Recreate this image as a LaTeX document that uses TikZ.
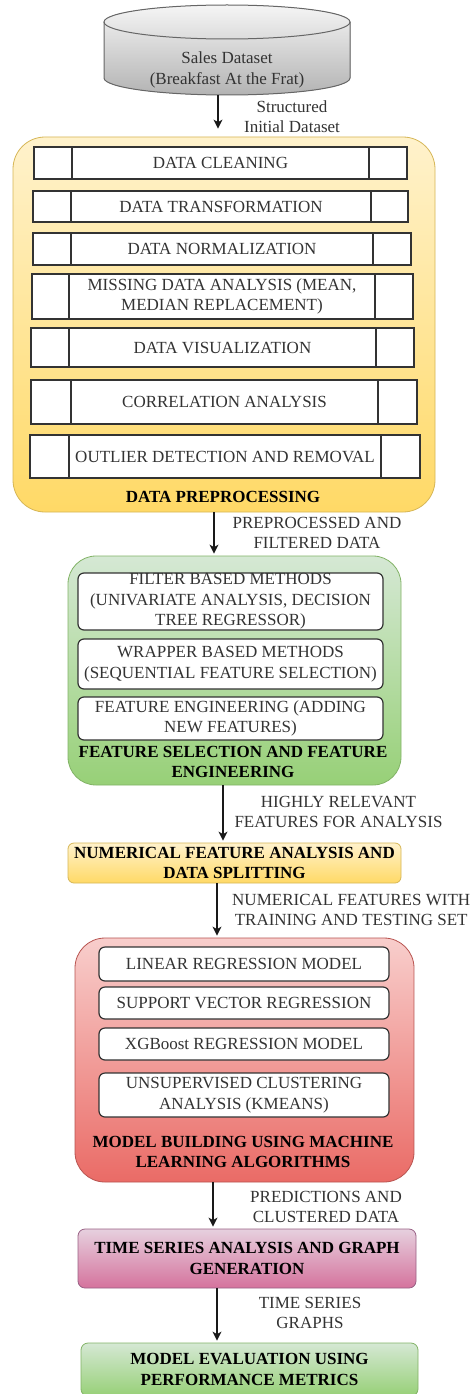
\documentclass[tikz,border=0pt]{standalone}
\usepackage{fontspec}
\setmainfont{Liberation Serif}
\usetikzlibrary{arrows.meta}
\definecolor{yTop}{HTML}{FFF2CC}\definecolor{yBot}{HTML}{FFD966}\definecolor{yStr}{HTML}{D6B656}
\definecolor{gTop}{HTML}{D5E8D4}\definecolor{gBot}{HTML}{97D077}\definecolor{gStr}{HTML}{82B366}
\definecolor{rTop}{HTML}{F8CECC}\definecolor{rBot}{HTML}{EA6B66}\definecolor{rStr}{HTML}{B85450}
\definecolor{pTop}{HTML}{E6D0DE}\definecolor{pBot}{HTML}{D5739D}\definecolor{pStr}{HTML}{996185}
\definecolor{cTop}{HTML}{F5F5F5}\definecolor{cBot}{HTML}{B3B3B3}\definecolor{cStr}{HTML}{666666}
\tikzset{
  txt/.style={font=\fontsize{17}{20.5}\selectfont, text=black!80, align=center},
  ttl/.style={font=\fontsize{17}{20.5}\selectfont\bfseries, text=black, align=center},
  cell/.style={draw=black!80, line width=1.2pt, fill=white, inner sep=0pt, txt},
  ibox/.style={draw=black!80, line width=1.2pt, fill=white, rounded corners=6pt, inner sep=0pt, txt},
  ycont/.style={draw=yStr, line width=0.8pt, top color=yTop, bottom color=yBot, inner sep=0pt, ttl},
  gcont/.style={draw=gStr, line width=0.8pt, top color=gTop, bottom color=gBot, inner sep=0pt, ttl},
  rcont/.style={draw=rStr, line width=0.8pt, top color=rTop, bottom color=rBot, inner sep=0pt, ttl},
  pcont/.style={draw=pStr, line width=0.8pt, top color=pTop, bottom color=pBot, inner sep=0pt, ttl},
  arr/.style={-{Stealth[length=9pt,width=9pt,inset=2.5pt]}, line width=1.2pt, black!90, shorten >=2pt},
}
% style, name, x1, y1, x2, y2, text
\newcommand\bx[7]{%
  \pgfmathsetmacro\myCX{(#3+#5)/2}\pgfmathsetmacro\myCY{(#4+#6)/2}%
  \pgfmathsetmacro\myW{#5-#3}\pgfmathsetmacro\myH{#6-#4}%
  \node[#1, minimum width=\myW pt, minimum height=\myH pt] (#2) at (\myCX,\myCY) {#7};%
}
% name, x1,x2,x3,x4, y1,y2, text
\newcommand\prow[8]{%
  \bx{cell}{#1l}{#2}{#6}{#3}{#7}{}%
  \bx{cell}{#1m}{#3}{#6}{#4}{#7}{#8}%
  \bx{cell}{#1r}{#4}{#6}{#5}{#7}{}%
}
\begin{document}
\begin{tikzpicture}[x=1pt,y=-1pt]
\useasboundingbox (0,0) rectangle (476,1394);
\fill[white] (0,0) rectangle (476,1394);

% cylinder
\bx{inner sep=0pt}{cyl}{104}{5}{350}{95}{}
\fill[top color=cTop, bottom color=cBot] (104,22) -- (104,78)
  arc[start angle=180, end angle=0, x radius=123, y radius=17] -- (350,22)
  arc[start angle=0, end angle=-180, x radius=123, y radius=17] -- cycle;
\draw[cStr, line width=1pt] (104,22) -- (104,78)
  arc[start angle=180, end angle=0, x radius=123, y radius=17] -- (350,22);
\draw[cStr, line width=1pt] (227,22) ellipse[x radius=123, y radius=17];
\node[txt] (cyltxt) at (227,70) {Sales Dataset\\(Breakfast At the Frat)};

% data preprocessing
\bx{ycont, rounded corners=32pt}{prep}{13}{137}{435}{512}{}
\prow{ra}{34}{72}{369}{407}{147}{179}{DATA CLEANING}
\prow{rb}{33}{71}{371}{408}{191}{222}{DATA TRANSFORMATION}
\prow{rc}{33}{71}{373}{411}{233}{265}{DATA NORMALIZATION}
\prow{rd}{32}{69}{375}{413}{274}{319}{MISSING DATA ANALYSIS (MEAN,\\MEDIAN REPLACEMENT)}
\prow{re}{31}{69}{376}{414}{328}{367}{DATA VISUALIZATION}
\prow{rf}{31}{71}{378}{417}{380}{424}{CORRELATION ANALYSIS}
\prow{rg}{30}{69}{381}{420}{435}{478}{OUTLIER DETECTION AND REMOVAL}
\node[ttl] (prepttl) at (223,497) {DATA PREPROCESSING};

% feature selection
\bx{gcont, rounded corners=28pt}{feat}{68}{556}{401}{785}{}
\bx{ibox}{fa}{78}{573}{383}{630}{FILTER BASED METHODS\\(UNIVARIATE ANALYSIS, DECISION\\TREE REGRESSOR)}
\bx{ibox}{fb}{78}{639}{383}{689}{WRAPPER BASED METHODS\\(SEQUENTIAL FEATURE SELECTION)}
\bx{ibox}{fc}{78}{697}{383}{740}{FEATURE ENGINEERING (ADDING\\NEW FEATURES)}
\node[ttl] (featttl) at (233,762) {FEATURE SELECTION AND FEATURE\\ENGINEERING};

% numerical
\bx{ycont, rounded corners=6pt}{num}{68}{843}{401}{883}{NUMERICAL FEATURE ANALYSIS AND\\DATA SPLITTING}

% model building
\bx{rcont, rounded corners=30pt}{model}{75}{938}{414}{1182}{}
\bx{ibox}{ma}{99}{947}{389}{981}{LINEAR REGRESSION MODEL}
\bx{ibox}{mb}{99}{987}{389}{1019}{SUPPORT VECTOR REGRESSION}
\bx{ibox}{mc}{99}{1028}{389}{1060}{XGBoost REGRESSION MODEL}
\bx{ibox}{md}{99}{1073}{389}{1117}{UNSUPERVISED CLUSTERING\\ANALYSIS (KMEANS)}
\node[ttl] (modelttl) at (243,1152) {MODEL BUILDING USING MACHINE\\LEARNING ALGORITHMS};

% time series
\bx{pcont, rounded corners=7pt}{ts}{78}{1229}{416}{1288}{TIME SERIES ANALYSIS AND GRAPH\\GENERATION}

% evaluation
\bx{gcont, rounded corners=7pt}{ev}{81}{1343}{418}{1396}{MODEL EVALUATION USING\\PERFORMANCE METRICS}

% arrows
\draw[arr, shorten >=8pt] ([xshift=-9pt]cyl.south) -- ([xshift=-6pt]prep.north);
\draw[arr] ([xshift=-10pt]prep.south) -- ([xshift=-20.5pt]feat.north);
\draw[arr] ([xshift=-11.5pt]feat.south) -- ([xshift=-11.5pt]num.north);
\draw[arr] ([xshift=-17.5pt]num.south) -- ([xshift=-27.5pt]model.north);
\draw[arr] ([xshift=-31.5pt]model.south) -- ([xshift=-34pt]ts.north);
\draw[arr] ([xshift=-30pt]ts.south) -- ([xshift=-32.5pt]ev.north);

% labels
\node[txt] (l1) at (292,116.5) {Structured\\Initial Dataset};
\node[txt] (l2) at (317,533) {PREPROCESSED AND\\FILTERED DATA};
\node[txt] (l3) at (338.5,812) {HIGHLY RELEVANT\\FEATURES FOR ANALYSIS};
\node[txt, anchor=west, inner sep=0pt] (l4) at (232,910) {NUMERICAL FEATURES WITH\\TRAINING AND TESTING SET};
\node[txt] (l5) at (326,1207) {PREDICTIONS AND\\CLUSTERED DATA};
\node[txt] (l6) at (310,1313) {TIME SERIES\\GRAPHS};
\end{tikzpicture}
\end{document}
